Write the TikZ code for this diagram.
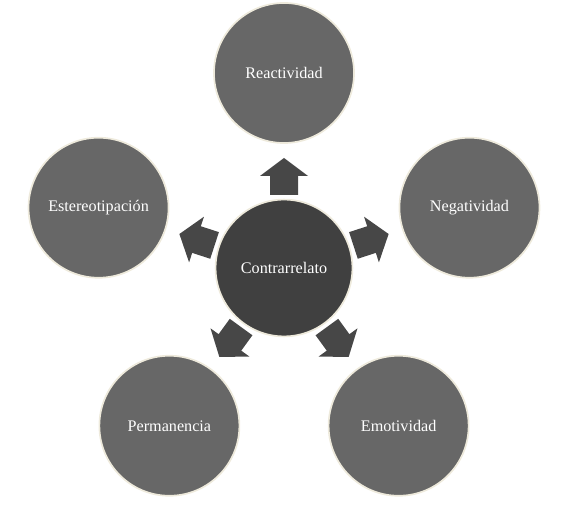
\documentclass[tikz,border=0pt]{standalone}
\usepackage{fontspec}
\setmainfont{Liberation Serif}
\usepackage{tikz}
\usetikzlibrary{calc}

\definecolor{outergray}{HTML}{676767}
\definecolor{hubgray}{HTML}{404040}
\definecolor{arrowgray}{HTML}{474747}
\definecolor{rimcream}{HTML}{EEEADC}

\tikzset{
  bubble/.style={circle, fill=outergray, draw=rimcream, line width=1.2pt,
    minimum size=3.5cm, inner sep=0pt, text=white,
    font=\fontsize{11.5}{13}\selectfont},
  hubbubble/.style={bubble, fill=hubgray, minimum size=3.42cm}
}

\begin{document}
\begin{tikzpicture}[x=0.025cm, y=0.025cm]
        \useasboundingbox (0,0) rectangle (564,511);
        % Centre
        \node[hubbubble] (hub) at (284,243) {Contrarrelato};
        % Outer circles
        \node[bubble] (react) at ($(hub)+(90:195)$) {Reactividad};
        \node[bubble] (neg) at ($(hub)+(18:195)$) {Negatividad};
        \node[bubble] (emot) at ($(hub)+(-54:195)$) {Emotividad};
        \node[bubble] (perm) at ($(hub)+(234:195)$) {Permanencia};
        \node[bubble] (ester) at ($(hub)+(162:195)$) {Estereotipación};
        % Arrows
        \foreach \a in {90,18,-54,234,162}
          \fill[arrowgray, shift={(hub.center)}, rotate=\a]
            (73,-14) -- (92,-14) -- (92,-24) -- (110,0) -- (92,24) -- (92,14) -- (73,14) -- cycle;
    \end{tikzpicture}
\end{document}
